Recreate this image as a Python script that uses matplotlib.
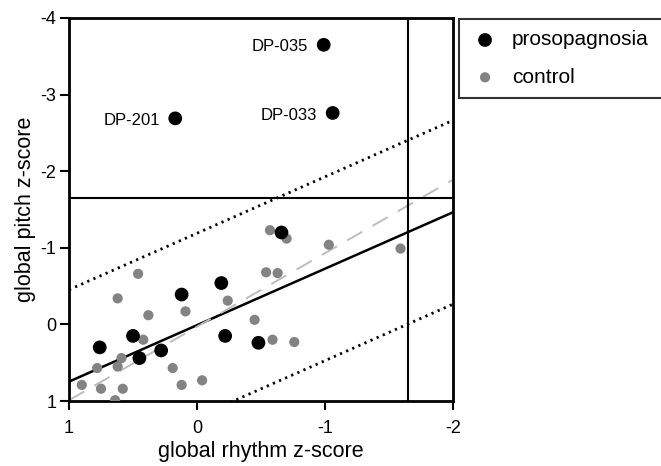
import matplotlib
matplotlib.use("Agg")
import matplotlib.pyplot as plt
import numpy as np

plt.rcParams['font.family'] = ['Liberation Sans', 'DejaVu Sans']

# prosopagnosia group (global rhythm z, global pitch z)
dp_rhythm = [-0.99, -1.06, 0.17, -0.66, -0.19, 0.12, 0.50, 0.76, 0.45, 0.28, -0.22, -0.48]
dp_pitch = [-3.65, -2.76, -2.69, -1.20, -0.54, -0.39, 0.15, 0.30, 0.44, 0.34, 0.15, 0.24]
dp_names = ["DP-035", "DP-033", "DP-201"]

# control group
ctl_rhythm = [-0.57, -0.70, -1.03, -1.59, -0.54, -0.63, 0.46, 0.62, -0.24, 0.09,
              0.38, -0.45, 0.42, -0.59, -0.76, 0.59, 0.78, 0.62, 0.19, 0.90,
              0.75, 0.58, 0.12, -0.04, 0.64]
ctl_pitch = [-1.23, -1.12, -1.04, -0.99, -0.68, -0.67, -0.66, -0.34, -0.31, -0.17,
             -0.12, -0.06, 0.20, 0.20, 0.23, 0.44, 0.57, 0.55, 0.57, 0.79,
             0.84, 0.84, 0.79, 0.73, 0.99]

# regression fit, prediction band offset, grey reference line, cut-off
fit_slope, fit_icpt = 0.737, 0.01
band = 1.2
diag_slope, diag_icpt = 0.96, 0.03
crit = -1.645

fig = plt.figure(figsize=(6.61, 4.66), dpi=100)
ax = fig.add_axes([69 / 661, 1 - 401 / 466, 384 / 661, 383 / 466])

xs = np.array([1.0, -2.0])
dots = (0, (0.8, 1.6))
ax.plot(xs, fit_icpt + fit_slope * xs, color='black', lw=1.8, zorder=2)
ax.plot(xs, fit_icpt + band + fit_slope * xs, color='black', lw=2, ls=dots, zorder=2)
ax.plot(xs, fit_icpt - band + fit_slope * xs, color='black', lw=2, ls=dots, zorder=2)
ax.plot(xs, diag_icpt + diag_slope * xs, color='#bdbdbd', lw=1.4, ls=(0, (9, 6)), zorder=2)

ax.axvline(crit, color='black', lw=1.5, zorder=2)
ax.axhline(crit, color='black', lw=1.5, zorder=2)

ax.scatter(ctl_rhythm, ctl_pitch, s=54, color='#838383', edgecolors='none', zorder=3, label='control')
ax.scatter(dp_rhythm, dp_pitch, s=98, color='black', edgecolors='none', zorder=4, label='prosopagnosia')

for name, x, y in zip(dp_names, dp_rhythm, dp_pitch):
    ax.annotate(name, (x, y), xytext=(-11, -1.5), textcoords='offset points',
                ha='right', va='center', fontsize=12)

ax.set_xlim(1, -2)
ax.set_ylim(1, -4)
ax.set_xticks([1, 0, -1, -2])
ax.set_yticks([1, 0, -1, -2, -3, -4])
ax.set_xticklabels(['1', '0', '-1', '-2'])
ax.set_yticklabels(['1', '0', '-1', '-2', '-3', '-4'])
ax.tick_params(direction='out', length=6.5, width=1.5, labelsize=13)
ax.tick_params(axis='x', pad=7.5)
ax.tick_params(axis='y', pad=2.5)
for sp in ax.spines.values():
    sp.set_linewidth(2)

ax.set_xlabel("global rhythm z-score", fontsize=15.5, labelpad=2.5)
ax.set_ylabel("global pitch z-score", fontsize=15.5, labelpad=3)

handles, labels = ax.get_legend_handles_labels()
leg = fig.legend(handles[::-1], labels[::-1], loc='upper left',
                 bbox_to_anchor=(459 / 661, 1 - 19 / 466, 0.36, 0),
                 mode='expand', borderaxespad=0, fontsize=15, frameon=True,
                 fancybox=False, edgecolor='black', labelspacing=0.88,
                 handletextpad=0.6, borderpad=0.55, handlelength=1.4)
leg.get_frame().set_linewidth(1.5)

fig.savefig("out.png", dpi=100)
